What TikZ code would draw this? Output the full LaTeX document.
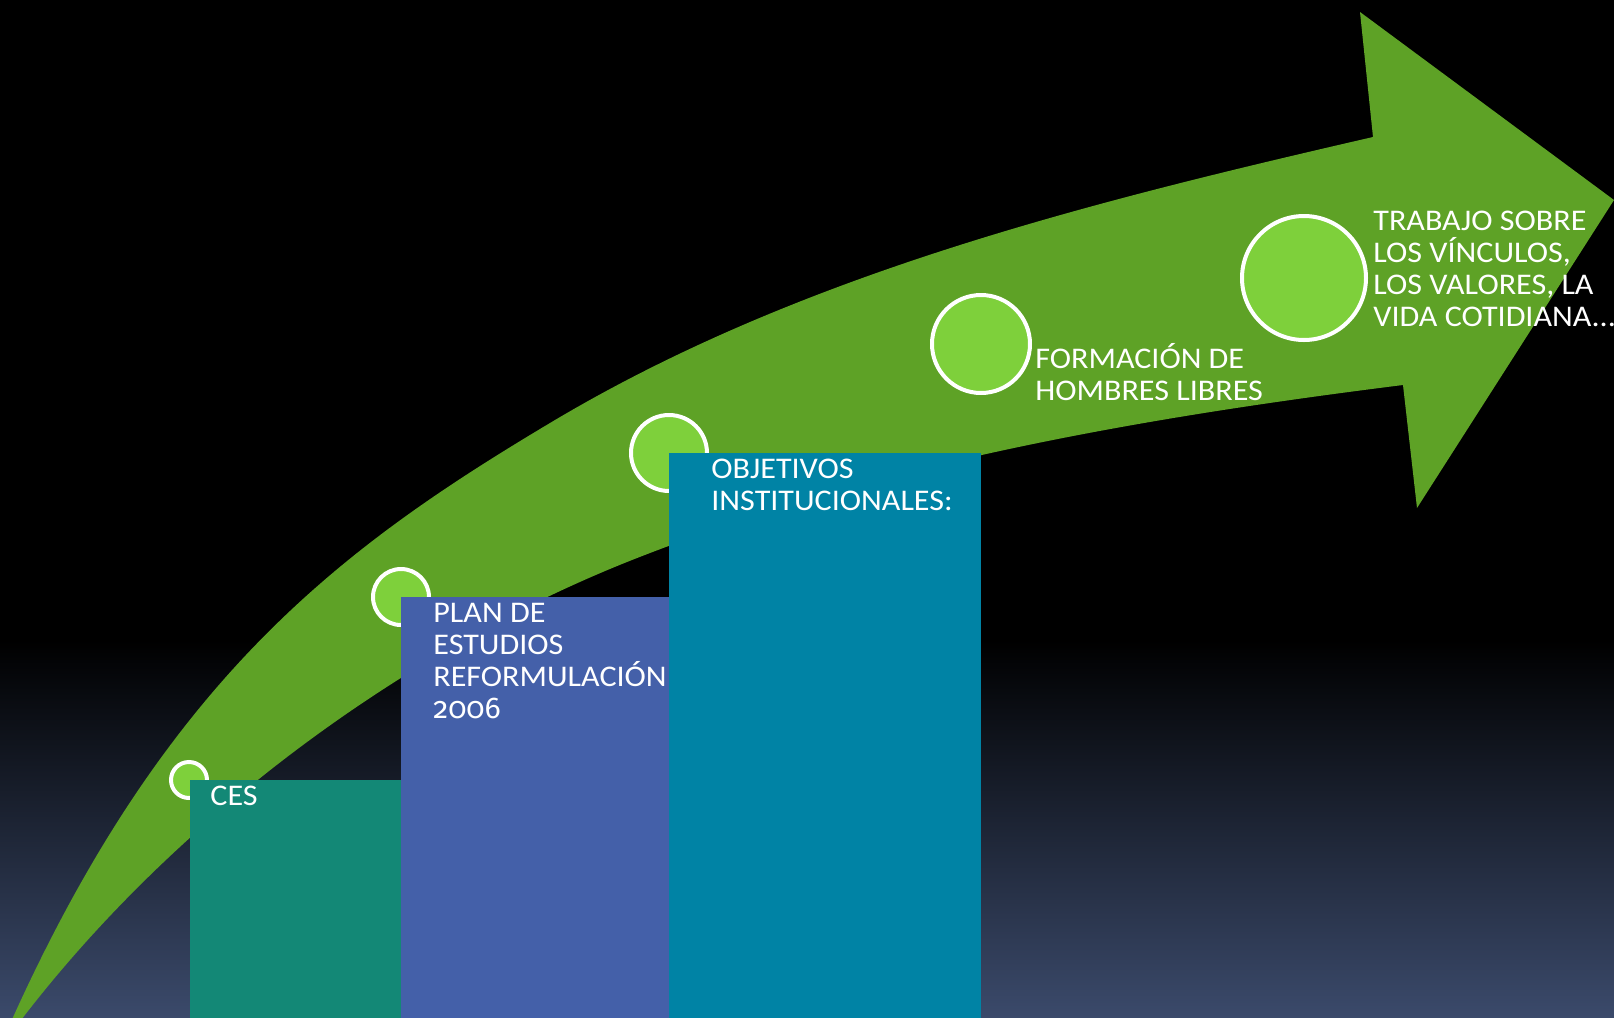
\documentclass[tikz,border=0pt]{standalone}
\usepackage{fontspec}
\setmainfont{Carlito}[FakeStretch=1.07]
\newfontfamily\oldnums{Fira Sans}[Numbers=OldStyle]
\definecolor{arrowgreen}{HTML}{5EA226}
\definecolor{dotgreen}{HTML}{7ED03B}
\definecolor{cesteal}{HTML}{138876}
\definecolor{planblue}{HTML}{4460A9}
\definecolor{objblue}{HTML}{0083A5}
\definecolor{bgbottom}{HTML}{3B4A6B}
\begin{document}
\begin{tikzpicture}[x=0.5pt,y=-0.5pt,
  dot/.style={circle, fill=dotgreen, draw=white, line width=2pt, inner sep=0pt},
  lbl/.style={text=white, font=\fontsize{15}{16}\selectfont, align=left, anchor=base west, inner sep=0pt}]
\useasboundingbox (0,0) rectangle (1614,1018);
\begin{scope}
\clip (0,0) rectangle (1614,1018);
\fill[black] (0,0) rectangle (1614,1018);
\shade[top color=black, bottom color=bgbottom] (0,640) rectangle (1614,1018);
% arrow
\fill[arrowgreen] (10,1024) .. controls (166,676) and (344,546) .. (550,423)
  .. controls (799,274) and (1091,202) .. (1373,137)
  -- (1360,12) -- (1614,200) -- (1417,508) -- (1403,385)
  .. controls (1140,418) and (873,464) .. (627,562)
  .. controls (395,655) and (170,824) .. (18,1024) -- cycle;
% dots
\node[dot, minimum size=18pt] (d1) at (189,780) {};
\node[dot, minimum size=28pt] (d2) at (401,597) {};
\node[dot, minimum size=38pt] (d3) at (669,453) {};
\node[dot, minimum size=49pt] (d4) at (981,344) {};
\node[dot, minimum size=62pt] (d5) at (1304,278) {};
% boxes
\fill[cesteal] (190,780) rectangle (401,1018);
\fill[planblue] (401,597) rectangle (669,1018);
\fill[objblue] (669,453) rectangle (981,1018);
\end{scope}
% labels (anchored at the baseline of the last line)
\node[lbl] (ces) at (210,805) {CES};
\node[lbl] (plan) at (433,718) {PLAN DE\\ESTUDIOS\\REFORMULACIÓN\\{\oldnums 2006}};
\node[lbl] (obj) at (711,510) {OBJETIVOS\\INSTITUCIONALES:};
\node[lbl] (form) at (1035,400) {FORMACIÓN DE\\HOMBRES LIBRES};
\node[lbl] (trab) at (1373,326) {TRABAJO SOBRE\\LOS VÍNCULOS,\\LOS VALORES, LA\\VIDA COTIDIANA...};
\end{tikzpicture}
\end{document}
